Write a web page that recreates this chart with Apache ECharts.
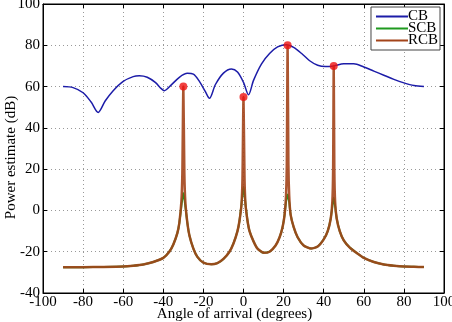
<!DOCTYPE html>
<html>
<head>
<meta charset="utf-8">
<script src="https://cdn.jsdelivr.net/npm/echarts@6/dist/echarts.min.js"></script>
<style>
    html, body { margin: 0; padding: 0; background: #fff; }
    #chart { width: 452px; height: 322px; }
</style>
</head>
<body>
<div id="chart"></div>
<script>
// angle, dB
var cbData = [
    [-90, 60], [-85, 59.5], [-80, 57], [-76, 52.5], [-72.5, 47.5], [-69, 53], [-65, 58],
    [-60, 62.5], [-55, 64.8], [-52, 65.2], [-48, 64.5], [-44, 62], [-41, 59], [-39.5, 58],
    [-36, 60.8], [-32, 64.5], [-28, 66.4], [-25, 66], [-22, 62.5], [-19, 57.5], [-17, 54.3],
    [-14, 61], [-10, 66.5], [-6, 68.5], [-3, 67], [0, 62], [2.5, 56], [5, 63], [9, 71],
    [13, 76], [17, 79.2], [21.5, 80.3], [25, 79], [29, 76], [33, 72.5], [37, 70.3],
    [41, 69.7], [45, 70], [50, 71], [55, 71], [60, 69.5], [65, 67.5], [70, 65.5],
    [75, 63.5], [80, 61.8], [85, 60.5], [90, 60]
];

var rcbData = [
    [-90, -27.5], [-80, -27.5], [-70, -27.4], [-60, -27.2], [-55, -26.8], [-50, -26.2],
    [-45, -25], [-40, -23], [-37, -20], [-35, -16.5], [-33, -11], [-32, -6], [-31, 4],
    [-30.5, 18], [-30, 60], [-29.5, 18], [-29, 4], [-28, -6], [-27, -12], [-25, -18.5],
    [-23, -22.5], [-20, -25.3], [-16, -26.1], [-13, -25.5], [-10, -23.5], [-7, -20],
    [-5, -16], [-3, -10], [-2, -5], [-1, 3], [-0.5, 16], [0, 55], [0.5, 16], [1, 3],
    [2, -5], [3, -10], [5, -15], [7, -18.5], [10, -20.5], [13, -20], [16, -17], [18, -13],
    [19.5, -8], [20.5, -2], [21.2, 7], [21.6, 22], [22, 80], [22.4, 22], [22.8, 7],
    [23.5, -2], [25, -8], [27, -13], [30, -17], [33.7, -18.5], [37, -17.5], [40, -14],
    [42, -10], [43.5, -4], [44.3, 4], [44.7, 20], [45, 70], [45.3, 20], [45.7, 4],
    [46.5, -4], [48, -10], [50, -14.5], [53, -18], [57, -21], [60, -23], [65, -25],
    [70, -26.2], [75, -26.8], [80, -27.2], [85, -27.3], [90, -27.4]
];

var scbData = [
    [-90, -27.5], [-80, -27.5], [-70, -27.4], [-60, -27.2], [-55, -26.8], [-50, -26.2],
    [-45, -25], [-40, -23], [-37, -20], [-35, -16.5], [-33, -11], [-32, -6], [-31, 2],
    [-30, 8.5], [-29, 2], [-28, -6], [-27, -12], [-25, -18.5],
    [-23, -22.5], [-20, -25.3], [-16, -26.1], [-13, -25.5], [-10, -23.5], [-7, -20],
    [-5, -16], [-3, -10], [-2, -5], [-1, 3], [0, 11.5], [1, 3],
    [2, -5], [3, -10], [5, -15], [7, -18.5], [10, -20.5], [13, -20], [16, -17], [18, -13],
    [19.5, -8], [20.5, -2], [21.2, 4], [22, 7.7], [22.8, 4],
    [23.5, -2], [25, -8], [27, -13], [30, -17], [33.7, -18.5], [37, -17.5], [40, -14],
    [42, -10], [43.5, -4], [44.3, 2], [45, 6.1], [45.7, 2],
    [46.5, -4], [48, -10], [50, -14.5], [53, -18], [57, -21], [60, -23], [65, -25],
    [70, -26.2], [75, -26.8], [80, -27.2], [85, -27.3], [90, -27.4]
];

var peakData = [[-30, 60], [0, 55], [22, 80], [45, 70]];

var xTicks = { min: -100, max: 100, interval: 20 };
var yTicks = { min: -40, max: 100, interval: 20 };

var font = 'Liberation Serif';
var myChart = echarts.init(document.getElementById('chart'));

var splitLine = { show: true, lineStyle: { color: '#999', type: [1, 3], width: 1 } };

var options = {
    animation: false,
    textStyle: { fontFamily: font },
    grid: {
        left: 43, right: 8, top: 4, bottom: 29,
        outerBoundsMode: 'none',
        containLabel: false,
        show: true, borderColor: '#000', borderWidth: 1
    },
    legend: {
        orient: 'vertical',
        right: 12,
        top: 7,
        data: ['CB', 'SCB', 'RCB'],
        icon: 'rect',
        itemWidth: 32,
        itemHeight: 2,
        itemGap: -3,
        padding: [2, 2, 2, 5],
        borderColor: '#444',
        borderWidth: 1,
        backgroundColor: '#fff',
        textStyle: { fontFamily: font, fontSize: 15, color: '#000', padding: [0, 0, 0, -5] }
    },
    xAxis: [{
        type: 'value',
        min: xTicks.min, max: xTicks.max, interval: xTicks.interval,
        name: 'Angle of arrival (degrees)',
        nameLocation: 'middle',
        nameGap: 14,
        nameMoveOverlap: false,
        nameTextStyle: { fontFamily: font, fontSize: 15, color: '#000', padding: [0, 18, 0, 0] },
        axisLine: { show: true, onZero: false, lineStyle: { color: '#000' } },
        axisTick: { inside: true, length: 4, lineStyle: { color: '#000' } },
        axisLabel: { fontFamily: font, fontSize: 15, color: '#000', margin: 2 },
        splitLine: splitLine
    }, {
        type: 'value', position: 'top',
        min: xTicks.min, max: xTicks.max, interval: xTicks.interval,
        axisLine: { show: true, onZero: false, lineStyle: { color: '#000' } },
        axisTick: { inside: true, length: 4, lineStyle: { color: '#000' } },
        axisLabel: { show: false },
        splitLine: { show: false }
    }],
    yAxis: [{
        type: 'value',
        min: yTicks.min, max: yTicks.max, interval: yTicks.interval,
        name: 'Power estimate (dB)',
        nameLocation: 'middle',
        nameGap: 24,
        nameMoveOverlap: false,
        nameTextStyle: { fontFamily: font, fontSize: 15, color: '#000', padding: [0, 0, 0, -18] },
        axisLine: { show: true, onZero: false, lineStyle: { color: '#000' } },
        axisTick: { inside: true, length: 4, lineStyle: { color: '#000' } },
        axisLabel: { fontFamily: font, fontSize: 15, color: '#000', margin: 3 },
        splitLine: splitLine
    }, {
        type: 'value', position: 'right',
        min: yTicks.min, max: yTicks.max, interval: yTicks.interval,
        axisLine: { show: true, onZero: false, lineStyle: { color: '#000' } },
        axisTick: { inside: true, length: 4, lineStyle: { color: '#000' } },
        axisLabel: { show: false },
        splitLine: { show: false }
    }],
    series: [
        {
            name: 'CB', type: 'line', data: cbData, smooth: 0.3,
            showSymbol: false, color: '#1c1ca8',
            lineStyle: { width: 1.5 }
        },
        {
            name: 'SCB', type: 'line', data: scbData, smooth: 0.2,
            showSymbol: false, color: '#1f9a1f',
            lineStyle: { width: 2 }
        },
        {
            name: 'RCB', type: 'line', data: rcbData, smooth: 0.2,
            showSymbol: false, color: '#a3441a',
            lineStyle: { width: 2.5, opacity: 0.9 }
        },
        {
            name: 'peaks', type: 'scatter', data: peakData,
            symbolSize: 8, color: '#ee1111', z: 5
        }
    ]
};

myChart.setOption(options);
</script>
</body>
</html>
